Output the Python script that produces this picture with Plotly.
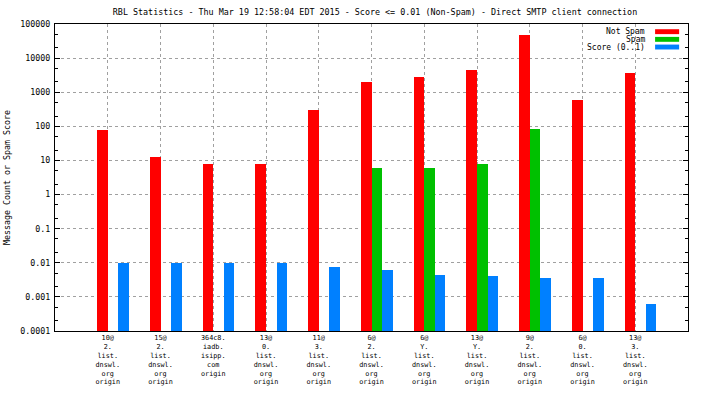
import plotly.graph_objects as go

categories = [
    "10@<br>2.<br>list.<br>dnswl.<br>org<br>origin",
    "15@<br>2.<br>list.<br>dnswl.<br>org<br>origin",
    "364c8.<br>iadb.<br>isipp.<br>com<br>origin",
    "13@<br>0.<br>list.<br>dnswl.<br>org<br>origin",
    "11@<br>3.<br>list.<br>dnswl.<br>org<br>origin",
    "6@<br>2.<br>list.<br>dnswl.<br>org<br>origin",
    "6@<br>Y.<br>list.<br>dnswl.<br>org<br>origin",
    "13@<br>Y.<br>list.<br>dnswl.<br>org<br>origin",
    "9@<br>2.<br>list.<br>dnswl.<br>org<br>origin",
    "6@<br>0.<br>list.<br>dnswl.<br>org<br>origin",
    "13@<br>3.<br>list.<br>dnswl.<br>org<br>origin",
]
not_spam = [78, 12.5, 7.8, 7.8, 300, 2060, 2720, 4510, 48200, 590, 3680]
spam = [None, None, None, None, None, 6.0, 6.0, 7.8, 83, None, None]
score = [0.01, 0.01, 0.01, 0.01, 0.0073, 0.0063, 0.0045, 0.0040, 0.0037, 0.0037, 0.0006]

series_names = ["Not Spam", "Spam", "Score (0..1)"]
series_colors = ["#ff0000", "#00c000", "#0080ff"]

y_tickvals = [1e-4, 1e-3, 1e-2, 1e-1, 1, 10, 100, 1000, 10000, 100000]
y_ticktext = ["0.0001", "0.001", "0.01", "0.1", "1", "10", "100", "1000", "10000", "100000"]
y_minor = [m * 10.0 ** e for e in range(-4, 5) for m in (2, 5)]

title_text = "RBL Statistics - Thu Mar 19 12:58:04 EDT 2015 - Score <= 0.01 (Non-Spam) - Direct SMTP client connection"
y_title = "Message Count or Spam Score"

FONT = "DejaVu Sans Mono"
bar_w = 0.2
offsets = [-0.2, 0.0, 0.2]

W, H = 704, 396
ML, MR, MT, MB = 55, 704 - 688, 24, 396 - 331

fig = go.Figure()
for vals, name, col, off in zip([not_spam, spam, score], series_names, series_colors, offsets):
    fig.add_trace(go.Bar(
        x=categories, y=vals, name=name, marker=dict(color=col, line=dict(width=0)),
        width=bar_w, offset=off, showlegend=False,
    ))

# custom legend (text left, swatch right, like gnuplot)
rows_y = [0.975, 0.950, 0.925]
for name, col, ry in zip(series_names, series_colors, rows_y):
    fig.add_annotation(xref="paper", yref="paper", x=0.935, y=ry, xanchor="right", yanchor="middle",
                       text=name, showarrow=False, font=dict(family=FONT, size=8, color="black"))
    fig.add_shape(type="rect", xref="paper", yref="paper", x0=0.948, x1=0.986,
                  y0=ry - 0.008, y1=ry + 0.008, fillcolor=col, line=dict(width=0))

fig.update_layout(
    width=W, height=H,
    margin=dict(l=ML, r=MR, t=MT, b=MB, autoexpand=False),
    paper_bgcolor="white", plot_bgcolor="white",
    barmode="overlay", bargap=0,
    font=dict(family=FONT, size=8.3, color="black"),
    title=dict(text=title_text, x=375 / W, xanchor="center",
               y=1 - 12 / H, yanchor="middle",
               font=dict(family=FONT, size=8.4, color="black")),
    xaxis=dict(
        type="category", range=[-1, len(categories)],
        showline=True, linecolor="black", linewidth=1, mirror=True,
        showgrid=True, gridcolor="#a0a0a0", griddash="3px,3px", gridwidth=1,
        ticks="", tickfont=dict(family=FONT, size=6.8, color="black"), tickangle=0,
        zeroline=False,
    ),
    yaxis=dict(
        type="log", range=[-4, 5],
        tickvals=y_tickvals, ticktext=y_ticktext,
        showline=True, linecolor="black", linewidth=1, mirror="ticks",
        ticks="inside", ticklen=5, tickcolor="black",
        showgrid=True, gridcolor="#a0a0a0", griddash="3px,3px", gridwidth=1,
        minor=dict(tickvals=y_minor, ticks="inside", ticklen=3, tickcolor="black", showgrid=False),
        tickfont=dict(family=FONT, size=8.3, color="black"),
        ticklabelstandoff=2,
        title=dict(text=y_title, font=dict(family=FONT, size=8.3, color="black"), standoff=8),
        zeroline=False,
    ),
)

fig.write_html("out.html", config={"displayModeBar": False},
               post_script="document.body.style.margin='0px';")
